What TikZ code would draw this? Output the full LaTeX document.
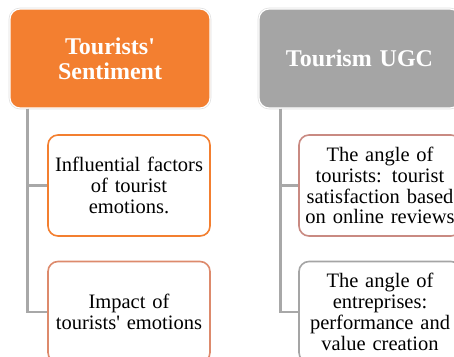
\documentclass[tikz,border=0pt]{standalone}
\usepackage{fontspec}
\setmainfont{Liberation Serif}
\usetikzlibrary{calc}
\definecolor{sentorange}{HTML}{F37F30}
\definecolor{ugcgray}{HTML}{A5A5A5}
\definecolor{linegray}{HTML}{A8A8A8}
\definecolor{salmon}{HTML}{DD8A6C}
\definecolor{dustyrose}{HTML}{C98A82}
\tikzset{
  headbox/.style={rounded corners=10pt, minimum width=200pt, minimum height=99pt, inner sep=0pt,
    text width=190pt, align=center, text=white,
    font=\fontsize{24}{25}\selectfont\bfseries,
    preaction={draw=black!12, line width=2.6pt}, draw=white, line width=1.2pt},
  leafbox/.style={rounded corners=10pt, minimum width=162pt, minimum height=101pt, inner sep=0pt,
    text width=154pt, align=center, fill=white, line width=1.6pt,
    font=\fontsize{20.5}{20.8}\selectfont},
  conn/.style={draw=linegray, line width=2.2pt}
}
\begin{document}
\begin{tikzpicture}[x=1pt,y=-1pt]
  \useasboundingbox (0,0) rectangle (454,356);
  \clip (0,0) rectangle (454,356);
  % headers
  \node[headbox, fill=sentorange] (sent) at (110,58.5) {Tourists\textquotesingle\\Sentiment};
  \node[headbox, fill=ugcgray, minimum width=201pt] (ugc) at (359.5,58.5) {Tourism UGC};
  % left branch
  \node[leafbox, draw=sentorange] (factors) at (129,185.5) {Influential factors\\of tourist\\emotions.};
  \node[leafbox, draw=salmon] (impact) at (129,312) {Impact of\\tourists\textquotesingle\ emotions};
  % right branch
  \node[leafbox, draw=dustyrose] (tourists) at (380,185.5) {The angle of\\tourists: tourist\\satisfaction based\\on online reviews};
  \node[leafbox, draw=ugcgray] (firms) at (380,312) {The angle of\\entreprises:\\performance and\\value creation};
  % connectors
  \draw[conn] ([xshift=18pt]sent.south west) |- (factors.west);
  \draw[conn] ([xshift=18pt]sent.south west) |- (impact.west);
  \draw[conn] ([xshift=22pt]ugc.south west) |- (tourists.west);
  \draw[conn] ([xshift=22pt]ugc.south west) |- (firms.west);
\end{tikzpicture}
\end{document}
